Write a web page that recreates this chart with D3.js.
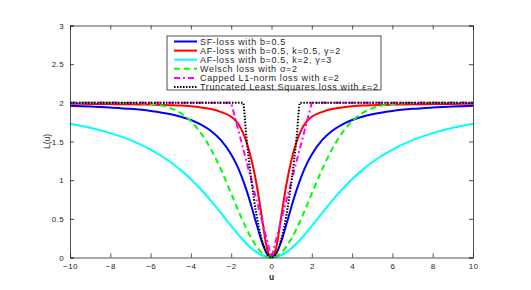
<!DOCTYPE html>
<html>
<head>
<meta charset="utf-8">
<script src="https://cdn.jsdelivr.net/npm/d3@7"></script>
<style>
  body { margin: 0; background: #fff; }
  svg { display: block; font-family: "Liberation Sans", Arial, sans-serif; }
</style>
</head>
<body>
<div id="chart"></div>
<script>
// ===== DATA (right half mirrored to the left) =====
const uHalf = [0, 0.25, 0.5, 0.75, 1, 1.25, 1.5, 1.75, 2, 2.5, 3, 3.5, 4, 4.5, 5, 6, 7, 8, 9, 10];

const sfLoss   = [0, 0.061, 0.222, 0.439, 0.667, 0.877, 1.059, 1.210, 1.333, 1.515, 1.636, 1.719, 1.778, 1.820, 1.852, 1.895, 1.922, 1.939, 1.952, 1.961];
const afLossA  = [0, 0.15, 0.56, 0.96, 1.27, 1.50, 1.66, 1.76, 1.82, 1.88, 1.92, 1.94, 1.955, 1.965, 1.97, 1.977, 1.981, 1.984, 1.986, 1.988];
const afLossB  = [0, 0.008, 0.032, 0.070, 0.120, 0.182, 0.252, 0.328, 0.408, 0.572, 0.732, 0.880, 1.013, 1.130, 1.232, 1.395, 1.517, 1.608, 1.677, 1.730];
const welsch   = [0, 0.017, 0.066, 0.145, 0.250, 0.376, 0.518, 0.670, 0.827, 1.131, 1.398, 1.609, 1.763, 1.866, 1.929, 1.984, 1.997, 2.0, 2.0, 2.0];

const uCapped  = [0, 2, 10];
const capped   = [0, 2, 2];

const uTrunc   = [0, 0.25, 0.5, 0.75, 1, 1.25, 1.414, 10];
const trunc    = [0, 0.0625, 0.25, 0.5625, 1, 1.5625, 2, 2];

const legendLabels = [
  "SF-loss with b=0.5",
  "AF-loss with b=0.5, k=0.5, \u03b3=2",
  "AF-loss with b=0.5, k=2, \u03b3=3",
  "Welsch loss with \u03c3=2",
  "Capped L1-norm loss with \u03b5=2",
  "Truncated Least Squares loss with \u03b5=2"
];

const xTicks = [-10, -8, -6, -4, -2, 0, 2, 4, 6, 8, 10];
const yTicks = [0, 0.5, 1, 1.5, 2, 2.5, 3];

// mirror a half curve onto negative u
function mirror(us, vs) {
  const pts = us.map((u, i) => [u, vs[i]]);
  const left = pts.filter(p => p[0] > 0).map(p => [-p[0], p[1]]).reverse();
  return left.concat(pts);
}

const series = [
  { pts: mirror(uHalf, sfLoss),    color: "#0000ff", dash: null,      curve: d3.curveMonotoneX },
  { pts: mirror(uHalf, afLossA),   color: "#ff0000", dash: null,      curve: d3.curveMonotoneX },
  { pts: mirror(uHalf, afLossB),   color: "#00ffff", dash: null,      curve: d3.curveMonotoneX },
  { pts: mirror(uHalf, welsch),    color: "#00ff00", dash: "6,4",     curve: d3.curveMonotoneX },
  { pts: mirror(uCapped, capped),  color: "#ff00ff", dash: "6,3,2,3", curve: d3.curveLinear },
  { pts: mirror(uTrunc, trunc),    color: "#000000", dash: "1.5,1.5", curve: d3.curveMonotoneX }
];

// ===== LAYOUT =====
const W = 531, H = 290;
const margin = { left: 70, right: 58, top: 25.5, bottom: 32.5 };

const svg = d3.select("#chart").append("svg")
  .attr("width", W)
  .attr("height", H);

const x = d3.scaleLinear().domain([-10, 10]).range([margin.left, W - margin.right]);
const y = d3.scaleLinear().domain([0, 3]).range([H - margin.bottom, margin.top]);

const axisColor = "#262626";

// curves
const line = d3.line().x(d => x(d[0])).y(d => y(d[1]));

svg.append("g").selectAll("path")
  .data(series)
  .join("path")
  .attr("d", s => line.curve(s.curve)(s.pts))
  .attr("fill", "none")
  .attr("stroke", s => s.color)
  .attr("stroke-width", 2)
  .attr("stroke-dasharray", s => s.dash);

// axes (matlab style: ticks inside, box on)
const tickLen = 4;
const gx = svg.append("g")
  .attr("transform", `translate(0,${y(0)})`)
  .call(d3.axisBottom(x).tickValues(xTicks).tickSize(-tickLen).tickPadding(6));
const gxTop = svg.append("g")
  .attr("transform", `translate(0,${y(3)})`)
  .call(d3.axisTop(x).tickValues(xTicks).tickSize(-tickLen).tickFormat(""));
const gy = svg.append("g")
  .attr("transform", `translate(${x(-10)},0)`)
  .call(d3.axisLeft(y).tickValues(yTicks).tickSize(-tickLen).tickPadding(6).tickFormat(d3.format("")));
const gyRight = svg.append("g")
  .attr("transform", `translate(${x(10)},0)`)
  .call(d3.axisRight(y).tickValues(yTicks).tickSize(-tickLen).tickFormat(""));

[gx, gxTop, gy, gyRight].forEach(g => {
  g.select(".domain").attr("stroke", axisColor).attr("stroke-width", 0.8);
  g.selectAll(".tick line").attr("stroke", axisColor).attr("stroke-width", 0.8);
  g.selectAll(".tick text").attr("fill", axisColor).style("font-size", "8px")
    .style("letter-spacing", "0.4px");
});

// axis labels
svg.append("text")
  .attr("x", x(0))
  .attr("y", y(0) + 22)
  .attr("text-anchor", "middle")
  .style("font-size", "8.5px")
  .style("font-weight", "bold")
  .attr("fill", axisColor)
  .text("u");

svg.append("text")
  .attr("transform", `translate(${x(-10) - 20},${y(1.5)}) rotate(-90)`)
  .attr("text-anchor", "middle")
  .style("font-size", "8.5px")
  .attr("fill", axisColor)
  .text("L(u)");

// legend
const legX = 167, legY = 36, legW = 214, legH = 54, rowH = 9.1;
const legend = svg.append("g");
legend.append("rect")
  .attr("x", legX).attr("y", legY)
  .attr("width", legW).attr("height", legH)
  .attr("fill", "#fff")
  .attr("stroke", axisColor)
  .attr("stroke-width", 0.8);

const rows = legend.selectAll("g.row")
  .data(series)
  .join("g")
  .attr("class", "row")
  .attr("transform", (d, i) => `translate(0,${legY + 5.5 + i * rowH})`);

rows.append("line")
  .attr("x1", legX + 7).attr("x2", legX + 30)
  .attr("y1", 0).attr("y2", 0)
  .attr("stroke", d => d.color)
  .attr("stroke-width", 2)
  .attr("stroke-dasharray", d => d.dash);

rows.append("text")
  .attr("x", legX + 33)
  .attr("y", 3)
  .style("font-size", "9px")
  .style("letter-spacing", "0.65px")
  .attr("fill", axisColor)
  .text((d, i) => legendLabels[i]);
</script>
</body>
</html>
